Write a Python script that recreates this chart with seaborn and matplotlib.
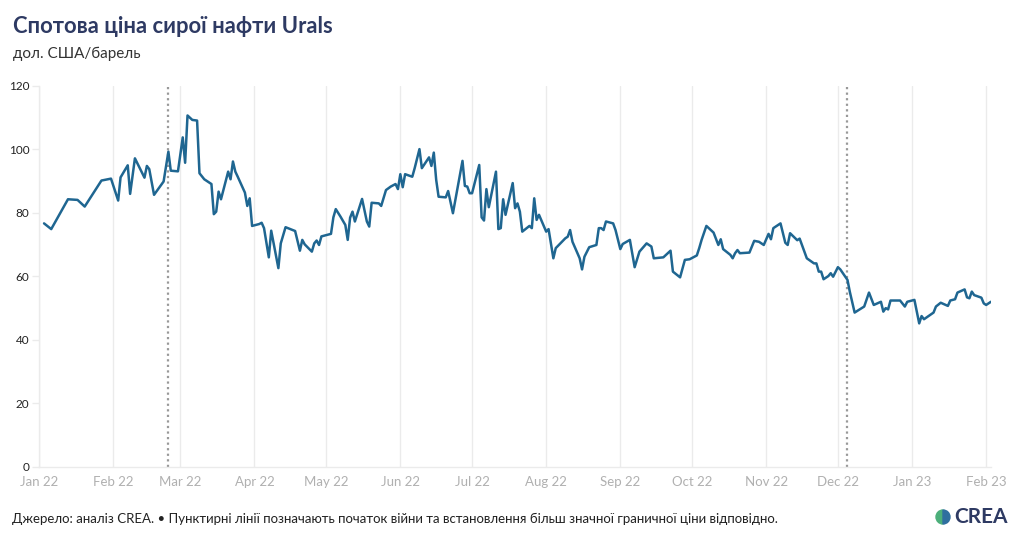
"""
Urals crude spot price, Jan 2022 - Feb 2023 (CREA style line chart).
"""

import pandas as pd
import matplotlib.pyplot as plt
import matplotlib.dates as mdates
from matplotlib.patches import Wedge
import seaborn as sns


# --- data ----------------------------------------------------------------
DATES = [
    "2022-01-03", "2022-01-06", "2022-01-13", "2022-01-17", "2022-01-20",
    "2022-01-27", "2022-01-31", "2022-02-03", "2022-02-04", "2022-02-07",
    "2022-02-08", "2022-02-10", "2022-02-14", "2022-02-15", "2022-02-16",
    "2022-02-18", "2022-02-22", "2022-02-24", "2022-02-25", "2022-02-28",
    "2022-03-02", "2022-03-03", "2022-03-04", "2022-03-06", "2022-03-08",
    "2022-03-09", "2022-03-11", "2022-03-14", "2022-03-15", "2022-03-16",
    "2022-03-17", "2022-03-18", "2022-03-21", "2022-03-22", "2022-03-23",
    "2022-03-24", "2022-03-25", "2022-03-28", "2022-03-29", "2022-03-30",
    "2022-03-31", "2022-04-03", "2022-04-04", "2022-04-05", "2022-04-07",
    "2022-04-08", "2022-04-11", "2022-04-12", "2022-04-14", "2022-04-18",
    "2022-04-20", "2022-04-21", "2022-04-22", "2022-04-25", "2022-04-26",
    "2022-04-27", "2022-04-28", "2022-04-29", "2022-05-03", "2022-05-04",
    "2022-05-05", "2022-05-07", "2022-05-09", "2022-05-10", "2022-05-11",
    "2022-05-12", "2022-05-13", "2022-05-16", "2022-05-18", "2022-05-19",
    "2022-05-20", "2022-05-23", "2022-05-24", "2022-05-26", "2022-05-28",
    "2022-05-30", "2022-05-31", "2022-06-01", "2022-06-02", "2022-06-03",
    "2022-06-06", "2022-06-07", "2022-06-09", "2022-06-10", "2022-06-13",
    "2022-06-14", "2022-06-15", "2022-06-16", "2022-06-17", "2022-06-20",
    "2022-06-21", "2022-06-23", "2022-06-27", "2022-06-28", "2022-06-29",
    "2022-06-30", "2022-07-01", "2022-07-04", "2022-07-05", "2022-07-06",
    "2022-07-07", "2022-07-08", "2022-07-11", "2022-07-12", "2022-07-13",
    "2022-07-14", "2022-07-15", "2022-07-18", "2022-07-19", "2022-07-20",
    "2022-07-21", "2022-07-22", "2022-07-25", "2022-07-26", "2022-07-27",
    "2022-07-28", "2022-07-29", "2022-08-01", "2022-08-02", "2022-08-04",
    "2022-08-05", "2022-08-09", "2022-08-10", "2022-08-11", "2022-08-12",
    "2022-08-15", "2022-08-16", "2022-08-17", "2022-08-19", "2022-08-22",
    "2022-08-23", "2022-08-24", "2022-08-25", "2022-08-26", "2022-08-29",
    "2022-08-30", "2022-09-01", "2022-09-02", "2022-09-05", "2022-09-07",
    "2022-09-09", "2022-09-12", "2022-09-14", "2022-09-15", "2022-09-19",
    "2022-09-22", "2022-09-23", "2022-09-26", "2022-09-28", "2022-09-30",
    "2022-10-03", "2022-10-04", "2022-10-05", "2022-10-07", "2022-10-10",
    "2022-10-12", "2022-10-13", "2022-10-14", "2022-10-17", "2022-10-18",
    "2022-10-19", "2022-10-20", "2022-10-21", "2022-10-25", "2022-10-27",
    "2022-10-29", "2022-10-31", "2022-11-02", "2022-11-03", "2022-11-04",
    "2022-11-07", "2022-11-09", "2022-11-10", "2022-11-11", "2022-11-14",
    "2022-11-15", "2022-11-18", "2022-11-21", "2022-11-22", "2022-11-23",
    "2022-11-24", "2022-11-25", "2022-11-27", "2022-11-28", "2022-11-29",
    "2022-12-01", "2022-12-02", "2022-12-05", "2022-12-06", "2022-12-08",
    "2022-12-12", "2022-12-14", "2022-12-16", "2022-12-19", "2022-12-20",
    "2022-12-21", "2022-12-22", "2022-12-23", "2022-12-27", "2022-12-29",
    "2022-12-30", "2023-01-02", "2023-01-04", "2023-01-05", "2023-01-06",
    "2023-01-10", "2023-01-11", "2023-01-13", "2023-01-16", "2023-01-17",
    "2023-01-19", "2023-01-20", "2023-01-23", "2023-01-24", "2023-01-25",
    "2023-01-26", "2023-01-27", "2023-01-30", "2023-01-31", "2023-02-01",
    "2023-02-03",
]

PRICE_USD = [
    76.6, 74.8, 84.2, 84.0, 81.9,
    90.1, 90.7, 83.8, 91.1, 94.9,
    85.9, 97.1, 91.0, 94.7, 93.7,
    85.6, 89.8, 99.2, 93.2, 93.0,
    103.7, 95.7, 110.6, 109.2, 109.0,
    92.4, 90.5, 89.0, 79.5, 80.3,
    86.6, 84.2, 92.9, 90.5, 96.1,
    92.9, 91.3, 86.3, 82.1, 84.5,
    75.8, 76.4, 76.8, 75.1, 65.9,
    74.3, 62.5, 70.3, 75.4, 74.2,
    68.0, 71.4, 70.0, 67.7, 70.3,
    71.2, 69.8, 72.5, 73.3, 78.5,
    81.1, 78.7, 76.1, 71.4, 78.4,
    80.3, 77.2, 84.3, 77.2, 75.6,
    83.1, 82.9, 82.1, 87.1, 88.2,
    89.0, 87.4, 92.1, 88.0, 92.1,
    91.3, 94.0, 100.0, 94.0, 97.4,
    94.7, 98.9, 90.3, 85.0, 84.8,
    86.8, 79.8, 96.3, 88.4, 88.2,
    86.1, 86.1, 95.0, 78.5, 77.5,
    87.4, 81.7, 92.9, 74.8, 75.1,
    84.2, 79.3, 89.3, 81.4, 82.9,
    80.3, 74.0, 75.8, 75.1, 84.5,
    77.7, 79.3, 74.0, 74.8, 65.6,
    68.8, 71.9, 72.4, 74.5, 70.8,
    65.6, 62.1, 66.1, 69.1, 69.8,
    75.1, 75.1, 74.5, 77.2, 76.6,
    74.5, 68.5, 70.1, 71.4, 62.8,
    67.7, 70.3, 69.3, 65.6, 65.9,
    68.0, 61.4, 59.6, 65.1, 65.3,
    66.5, 68.8, 71.4, 75.8, 73.7,
    69.8, 71.6, 68.5, 66.7, 65.6,
    67.2, 68.2, 67.2, 67.4, 71.1,
    70.8, 69.8, 73.3, 71.6, 75.1,
    76.6, 70.5, 69.8, 73.5, 71.3,
    71.8, 65.6, 64.0, 64.0, 61.4,
    61.4, 59.0, 60.0, 60.9, 59.8,
    62.8, 62.1, 58.8, 55.0, 48.5,
    50.4, 54.8, 50.9, 51.9, 48.8,
    49.9, 49.5, 52.3, 52.3, 50.4,
    51.9, 52.5, 45.1, 47.4, 46.4,
    48.5, 50.4, 51.6, 50.6, 52.3,
    52.7, 54.8, 55.8, 53.3, 53.0,
    55.1, 54.0, 53.2, 51.4, 50.9,
    51.9,
]

# start of the war, stricter price cap
EVENT_DATES = ["2022-02-24", "2022-12-05"]

TITLE = "Спотова ціна сирої нафти Urals"
SUBTITLE = "дол. США/барель"
FOOTNOTE = ("Джерело: аналіз CREA. • Пунктирні лінії позначають початок війни "
            "та встановлення більш значної граничної ціни відповідно.")

LINE_COLOR = "#1f6691"
NAVY = "#2e3a63"
GRID = "#ebebeb"


def main() -> None:
    df = pd.DataFrame({"date": pd.to_datetime(DATES), "price": PRICE_USD})

    sns.set_theme(style="white")
    plt.rcParams["font.family"] = ["Lato", "DejaVu Sans"]

    fig = plt.figure(figsize=(10.2, 5.41), dpi=100)
    ax = fig.add_axes([0.0385, 0.1377, 0.933, 0.704])

    # monthly vertical grid behind the line
    for m in pd.date_range("2022-01-01", "2023-02-01", freq="MS"):
        ax.axvline(m, color=GRID, linewidth=1, zorder=0)

    for d in EVENT_DATES:
        ax.axvline(pd.Timestamp(d), color="#999999", linestyle=(0, (1, 1.5)),
                   linewidth=1.6, zorder=1)

    sns.lineplot(data=df, x="date", y="price", ax=ax, color=LINE_COLOR,
                 linewidth=1.8, zorder=3)

    ax.set_xlim(pd.Timestamp("2022-01-01"), pd.Timestamp("2023-02-03"))
    ax.set_ylim(0, 120)
    ax.set_yticks(range(0, 121, 20))
    ax.xaxis.set_major_locator(mdates.MonthLocator())
    ax.xaxis.set_major_formatter(mdates.DateFormatter("%b %y"))
    ax.set_xlabel("")
    ax.set_ylabel("")

    ax.tick_params(axis="x", length=0, pad=7, labelsize=9.5, labelcolor="#b0b0b0")
    ax.tick_params(axis="y", length=5, width=1, color=GRID, pad=2,
                   labelsize=8.5, labelcolor="#222222")
    ax.yaxis.set_ticks_position("left")

    for side in ["top", "right"]:
        ax.spines[side].set_visible(False)
    for side in ["left", "bottom"]:
        ax.spines[side].set_color(GRID)
        ax.spines[side].set_linewidth(1)

    fig.text(0.0125, 0.939, TITLE, fontsize=15.8, fontweight="bold",
             color=NAVY, va="baseline")
    fig.text(0.0125, 0.893, SUBTITLE, fontsize=11, color="#333333",
             va="baseline")
    fig.text(0.0115, 0.034, FOOTNOTE, fontsize=9.55, color="#222222",
             va="baseline")

    # rough CREA logo
    fig.text(0.988, 0.034, "CREA", fontsize=15, fontweight="bold",
             color=NAVY, ha="right", va="baseline")
    cx, cy, r = 943, 541 - 517, 7
    fig.patches.append(Wedge((cx, cy), r, 90, 270, color="#4caf7a",
                             transform=None, figure=fig))
    fig.patches.append(Wedge((cx, cy), r, 270, 90, color="#2f6f9f",
                             transform=None, figure=fig))

    fig.savefig("out.png", dpi=100)
    plt.close(fig)


if __name__ == "__main__":
    main()
